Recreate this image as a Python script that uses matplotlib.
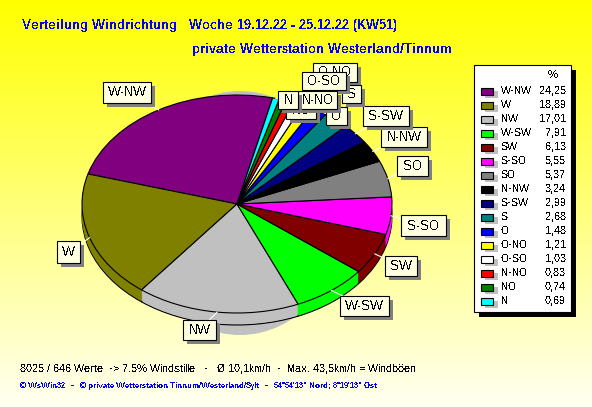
import numpy as np
import matplotlib
matplotlib.use('Agg')
import matplotlib.pyplot as plt
from matplotlib.patches import Ellipse

plt.rcParams['font.family'] = ['Liberation Sans', 'DejaVu Sans']
plt.rcParams['text.antialiased'] = False
plt.rcParams['text.hinting'] = 'native'
plt.rcParams['text.hinting_factor'] = 1

richtung = ['W-NW', 'W', 'NW', 'W-SW', 'SW', 'S-SO', 'SO', 'N-NW', 'S-SW', 'S', 'O', 'O-NO', 'O-SO', 'N-NO', 'NO', 'N']
werte = [24.25, 18.89, 17.01, 7.91, 6.13, 5.55, 5.37, 3.24, 2.99, 2.68, 1.48, 1.21, 1.03, 0.83, 0.74, 0.69]
farben = ['#800080', '#808000', '#c0c0c0', '#00ff00', '#800000', '#ff00ff', '#808080', '#000000',
          '#000080', '#008080', '#0000ff', '#ffff00', '#ffffff', '#ff0000', '#008000', '#00ffff']

W, H = 592, 407
cx, cy, rx, ry = 237, 204, 155, 109
tiefe = 12
start = 76.7

# label boxes in pixels: x0, y0, x1, y1
boxen = {
    'W-NW': (103, 82, 151, 103), 'W': (57, 241, 80, 263), 'NW': (183, 320, 216, 340),
    'W-SW': (340, 296, 389, 316), 'SW': (385, 256, 417, 276), 'S-SO': (401, 215, 446, 236),
    'SO': (397, 156, 428, 176), 'N-NW': (381, 127, 427, 147), 'S-SW': (363, 106, 409, 126),
    'O-NO': (313, 63, 357, 82), 'S': (342, 85, 361, 103), 'O': (326, 107, 347, 125),
    'NO': (286, 101, 316, 119), 'O-SO': (302, 72, 346, 90), 'N-NO': (298, 91, 337, 109),
    'N': (278, 91, 298, 109),
}

fig = plt.figure(figsize=(W / 100, H / 100), dpi=100)

# background gradient
bg = fig.add_axes([0, 0, 1, 1])
g = np.linspace(0, 1, 256).reshape(-1, 1)
rgb = np.dstack([np.ones_like(g), np.ones_like(g), 0.95 * g])
bg.imshow(rgb, aspect='auto', extent=(0, W, H, 0))
# pale shadow that shows above and below the pie
bg.add_patch(Ellipse((240, 213), 210, 244, color='#c0c0c0', lw=0, zorder=2))
bg.axis('off')

# pie, radius 1 is stretched to the ellipse
ax = fig.add_axes([0, 0, 1, 1])
ax.patch.set_alpha(0)
for i in range(tiefe, 0, -1):
    kante = 'black' if i == tiefe else 'none'
    ax.pie(werte, colors=farben, startangle=start, center=(0, -i / ry),
           wedgeprops=dict(edgecolor=kante, linewidth=0.8))
ax.pie(werte, colors=farben, startangle=start, wedgeprops=dict(edgecolor='black', linewidth=0.8))
ax.set_aspect('auto')
ax.set_xlim(-cx / rx, (W - cx) / rx)
ax.set_ylim(-(H - cy) / ry, cy / ry)
ax.axis('off')

# overlay in pixel coordinates
ov = fig.add_axes([0, 0, 1, 1])
ov.patch.set_alpha(0)
ov.set_xlim(0, W)
ov.set_ylim(H, 0)
ov.axis('off')

mitten = start + np.cumsum(werte) * 3.6 - np.array(werte) * 1.8
for name, m in zip(richtung, mitten):
    x0, y0, x1, y1 = boxen[name]
    px = cx + rx * np.cos(np.radians(m))
    py = cy - ry * np.sin(np.radians(m))
    ov.plot([px, (x0 + x1) / 2], [py, (y0 + y1) / 2], color='white', lw=0.8, zorder=2)

reihenfolge = ['W-NW', 'W', 'NW', 'W-SW', 'SW', 'S-SO', 'SO', 'N-NW', 'S-SW', 'O-NO', 'S', 'O', 'NO', 'O-SO', 'N-NO', 'N']
for k, name in enumerate(reihenfolge):
    x0, y0, x1, y1 = boxen[name]
    z = 3 + k
    ov.fill([x0 + 4, x1 + 4, x1 + 4, x0 + 4], [y0 + 4, y0 + 4, y1 + 4, y1 + 4], color='#808080', lw=0, zorder=z)
    ov.fill([x0, x1, x1, x0], [y0, y0, y1, y1], fc='#ffffe1', ec='black', lw=0.8, zorder=z)
    ov.text((x0 + x1) / 2, (y0 + y1) / 2 + 0.5, name, ha='center', va='center', fontsize=9, color='black', zorder=z)

# legend
ov.fill([479, 576, 576, 479], [70, 70, 317, 317], color='black', lw=0, zorder=30)
ov.fill([474, 571, 571, 474], [65, 65, 312, 312], fc='white', ec='black', lw=0.8, zorder=31)
ov.text(553, 75, '%', ha='center', va='center', fontsize=8, zorder=32)
for i, (name, wert, farbe) in enumerate(zip(richtung, werte, farben)):
    y = 91 + 14 * i
    ov.fill([485, 498, 498, 485], [y, y, y + 7, y + 7], color='#c0c0c0', lw=0, zorder=32)
    ov.fill([481, 493, 493, 481], [y - 3.5, y - 3.5, y + 3.5, y + 3.5], fc=farbe, ec='black', lw=0.8, zorder=33)
    ov.text(501, y + 0.5, name, ha='left', va='center', fontsize=8, zorder=33)
    ov.text(566, y + 0.5, f'{wert:.2f}'.replace('.', ','), ha='right', va='center', fontsize=8, zorder=33)

# titles and footer
ov.text(22, 26, 'Verteilung Windrichtung   Woche 19.12.22 - 25.12.22 (KW51)', color='#0000ff',
        fontsize=9, fontweight='bold', ha='left', va='center')
ov.text(192, 49, 'private Wetterstation Westerland/Tinnum', color='#0000ff',
        fontsize=9, fontweight='bold', ha='left', va='center')
ov.text(20, 369, '8025 / 646 Werte  -> 7.5% Windstille   -   Ø 10,1km/h  -  Max. 43,5km/h = Windböen',
        color='black', fontsize=8, ha='left', va='center')
ov.text(20, 386, '© WsWin32   -   © private Wetterstation Tinnum/Westerland/Sylt   -   54°54\'13" Nord; 8°19\'13" Ost',
        color='#0000ff', fontsize=5.5, fontweight='bold', ha='left', va='center')

fig.savefig('out.png', dpi=100)
